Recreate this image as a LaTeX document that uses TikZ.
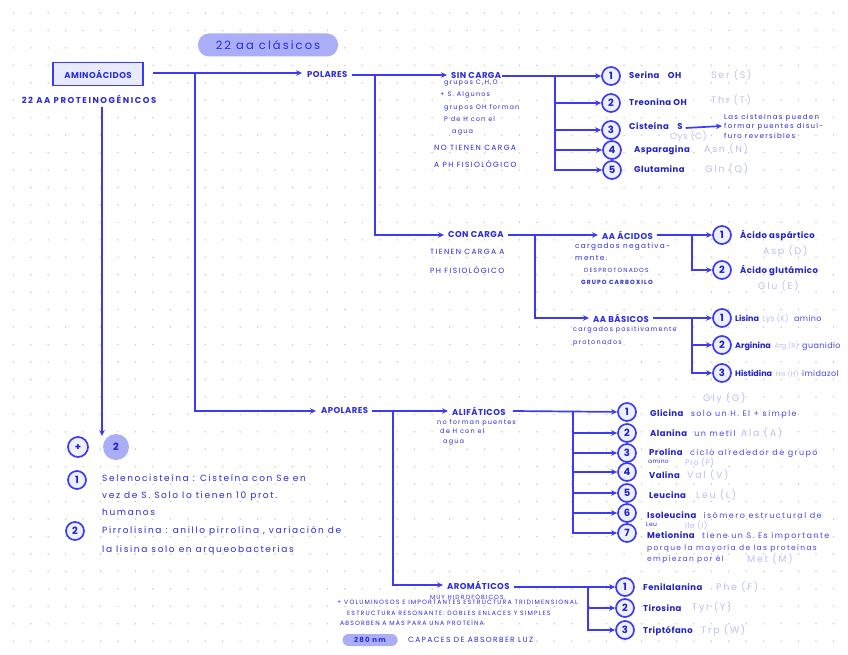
\documentclass[tikz,border=0pt]{standalone}
\usepackage{fontspec}
\setmainfont{Poppins}
\newfontfamily\handA[LetterSpace=5]{Poppins}
\newfontfamily\handB[LetterSpace=18]{Poppins}
\usetikzlibrary{arrows.meta,positioning}

\definecolor{ink}{HTML}{2B2BE0}
\definecolor{inkdark}{HTML}{2222C8}
\definecolor{inklight}{HTML}{4646EE}
\definecolor{wirecol}{HTML}{3B3BF6}
\definecolor{faint}{HTML}{BCC0F2}
\definecolor{pillfill}{HTML}{A9AEF6}
\definecolor{boxfill}{HTML}{E8EAFF}
\definecolor{numfill}{HTML}{EEF0FF}
\definecolor{gridcol}{HTML}{C6C6CC}

\tikzset{
  wire/.style={draw=wirecol, line width=1.7pt},
  arr/.style={wire, -{Stealth[length=6pt,width=5.5pt]}},
  head/.style={text=ink, font=\handA\fontsize{8.5}{10}\selectfont\bfseries, inner sep=1pt},
  aaname/.style={text=inkdark, font=\handA\fontsize{8.5}{10}\selectfont\bfseries, anchor=base west, inner sep=1pt},
  desc/.style={text=inklight, font=\handB\fontsize{8}{10}\selectfont, inner sep=1pt},
  abbr/.style={text=faint, font=\handB\fontsize{9.5}{10}\selectfont, anchor=base west, inner sep=1pt},
  note/.style={text=ink, font=\handB\fontsize{7}{12}\selectfont, align=left, inner sep=0pt},
  num/.style={circle, draw=wirecol, line width=1.7pt, fill=numfill, minimum size=18pt,
    inner sep=0pt, text=inkdark, font=\fontsize{10}{10}\selectfont\bfseries},
  pill/.style={fill=pillfill, rounded corners=11pt, text=ink, inner sep=0pt},
}

\begin{document}
\begin{tikzpicture}[x=1pt, y=-1pt]
  \fill[white] (0,0) rectangle (848,655);
  \useasboundingbox (0,0) rectangle (848,655);

  % dotted paper
  \foreach \i in {0,...,47}
    \foreach \j in {0,...,36}
      \fill[gridcol] ({13.3+17.45*\i},{13+17.45*\j}) circle (0.8pt);

  % title and root
  \node[pill, minimum width=140pt, minimum height=23pt, font=\handB\fontsize{11.5}{12}\selectfont] (clasicos) at (268,45) {22 aa clásicos};
  \node[draw=wirecol, line width=1.3pt, fill=boxfill, minimum width=90pt, minimum height=23pt,
    text=ink, font=\handA\fontsize{8.5}{10}\selectfont\bfseries] (amino) at (98,74) {AMINOÁCIDOS};
  \node[head, font=\handB\fontsize{8.5}{10}\selectfont\bfseries] (proteino) at (89,99) {22 AA PROTEINOGÉNICOS};

  % polares
  \node[head, anchor=west] (polares) at (306,75) {POLARES};
  \node[head, anchor=west] (apolares) at (320,411) {APOLARES};
  \coordinate (j0) at (195,73);
  \draw[arr] ([xshift=9pt]amino.east |- j0) -- ([xshift=-4pt]polares.west |- j0);
  \draw[arr] (j0) |- ([xshift=-4pt]apolares.west);

  \node[head, anchor=west] (sincarga) at (450,76) {SIN CARGA};
  \node[head, anchor=west] (concarga) at (447,235) {CON CARGA};
  \coordinate (j1) at (375,75);
  \draw[arr] ([xshift=3pt]polares.east |- j1) -- ([xshift=-3pt]sincarga.west |- j1);
  \draw[arr] (j1) |- ([xshift=-3pt]concarga.west);

  \node[note, anchor=north west, font=\handB\fontsize{6.5}{12.2}\selectfont] (sinnota) at (440,80) {\hspace*{4pt}grupos C,H,O\\+ S. Algunos\\\hspace*{4pt}grupos OH forman\\\hspace*{4pt}P de H con el\\\hspace*{12pt}agua};
  \node[note, anchor=north west, font=\handB\fontsize{7.5}{17}\selectfont] (sinnota2) at (434,145) {NO TIENEN CARGA\\A PH FISIOLÓGICO};

  % sin carga
  \node[num] (s1) at (611,76) {1};
  \node[num] (s2) at (611,103) {2};
  \node[num] (s3) at (611,130) {3};
  \node[num] (s4) at (612,150) {4};
  \node[num] (s5) at (612,170) {5};
  \coordinate (j2) at (555,76);
  \draw[arr] (sincarga.east) -- (s1);
  \foreach \n in {2,...,5}
    \draw[arr] (j2) |- (s\n);

  \node[aaname] (ser) at (628,79) {Serina\quad OH};
  \node[abbr] (serab) at (710,79) {Ser (S)};
  \node[aaname] (thr) at (628,106) {Treonina OH};
  \node[abbr] (thrab) at (710,104) {Thr (T)};
  \node[aaname] (cys) at (628,130) {Cisteína\quad S};
  \node[abbr, font=\handA\fontsize{9}{10}\selectfont] (cysab) at (669,140) {Cys (C)};
  \node[note, anchor=west, font=\handB\fontsize{7}{9.5}\selectfont] (cysnota) at (724,126) {Las cisteínas pueden\\formar puentes disul-\\furo reversibles};
  \draw[arr] ([xshift=2pt]cys.east |- 0,128) -- ([xshift=-2pt]cysnota.west);
  \node[aaname] (asn) at (633,153) {Asparagina};
  \node[abbr] (asnab) at (703,153) {Asn (N)};
  \node[aaname] (gln) at (633,173) {Glutamina};
  \node[abbr] (glnab) at (704,173) {Gln (Q)};

  % con carga
  \node[note, anchor=north west, font=\handB\fontsize{7.5}{19}\selectfont] (connota) at (430,249) {TIENEN CARGA A\\PH FISIOLÓGICO};
  \node[head, anchor=west] (acidos) at (601,235) {AA ÁCIDOS};
  \node[head, anchor=west] (basicos) at (592,318) {AA BÁSICOS};
  \coordinate (j3) at (535,235);
  \draw[arr] ([xshift=3pt]concarga.east) -- ([xshift=-3pt]acidos.west);
  \draw[arr] (j3) |- ([xshift=-3pt]basicos.west);
  \node[note, anchor=north west, font=\handB\fontsize{7.3}{12}\selectfont] (acinota) at (575,243) {cargados negativa-\\mente.\\\hspace*{9pt}{\fontsize{6}{12}\selectfont DESPROTONADOS}\\\hspace*{6pt}{\fontsize{6}{12}\selectfont\bfseries GRUPO CARBOXILO}};
  \node[note, anchor=north west, font=\handB\fontsize{6.5}{13}\selectfont] (basnota) at (573,326) {cargados positivamente\\protonados};

  \node[num] (c1) at (722,235) {1};
  \node[num] (c2) at (722,270) {2};
  \coordinate (j4) at (692,235);
  \draw[arr] ([xshift=3pt]acidos.east) -- (c1);
  \draw[arr] (j4) |- (c2);
  \node[aaname] (asp) at (739,238) {Ácido aspártico};
  \node[abbr] (aspab) at (762,254) {Asp (D)};
  \node[aaname] (glu) at (739,273) {Ácido glutámico};
  \node[abbr] (gluab) at (757,289) {Glu (E)};

  \node[num] (b1) at (722,318) {1};
  \node[num] (b2) at (722,345) {2};
  \node[num] (b3) at (722,373) {3};
  \coordinate (j5) at (692,318);
  \draw[arr] ([xshift=3pt]basicos.east) -- (b1);
  \foreach \n in {2,3}
    \draw[arr] (j5) |- (b\n);
  \node[aaname, font=\fontsize{8}{9}\selectfont\bfseries] (lys) at (734,321) {Lisina};
  \node[abbr, font=\fontsize{8}{9}\selectfont, base right=1pt of lys] (lysab) {Lys (K)};
  \node[desc, font=\handA\fontsize{8}{9}\selectfont, anchor=base west, base right=3pt of lysab] (lysgr) {amino};
  \node[aaname, font=\fontsize{8}{9}\selectfont\bfseries] (arg) at (734,348) {Arginina};
  \node[abbr, font=\fontsize{7}{9}\selectfont, base right=1pt of arg] (argab) {Arg (R)};
  \node[desc, font=\handA\fontsize{8}{9}\selectfont, anchor=base west, base right=1pt of argab] (arggr) {guanidio};
  \node[aaname, font=\fontsize{8}{9}\selectfont\bfseries] (his) at (734,376) {Histidina};
  \node[abbr, font=\fontsize{7}{9}\selectfont, base right=1pt of his] (hisab) {His (H)};
  \node[desc, font=\handA\fontsize{8}{9}\selectfont, anchor=base west, base right=1pt of hisab] (hisgr) {imidazol};

  % apolares
  \node[head, anchor=west] (alifaticos) at (451,411) {ALIFÁTICOS};
  \node[head, anchor=west] (aromaticos) at (446,585) {AROMÁTICOS};
  \coordinate (j6) at (393,411);
  \draw[arr] ([xshift=3pt]apolares.east) -- ([xshift=-3pt]alifaticos.west);
  \draw[arr] (j6) |- ([xshift=-3pt]aromaticos.west);
  \node[note, anchor=north west, font=\handB\fontsize{6.5}{9.5}\selectfont] (alinota) at (437,419) {no forman puentes\\\hspace*{3pt}de H con el\\\hspace*{6pt}agua};

  \node[num] (l1) at (627,412) {1};
  \node[num] (l2) at (627,433) {2};
  \node[num] (l3) at (627,453) {3};
  \node[num] (l4) at (627,472) {4};
  \node[num] (l5) at (627,493) {5};
  \node[num] (l6) at (627,513) {6};
  \node[num] (l7) at (627,533) {7};
  \coordinate (j7) at (573,412);
  \draw[arr] ([xshift=6pt]alifaticos.east) -- (l1);
  \foreach \n in {2,...,7}
    \draw[arr] (j7) |- (l\n);

  \node[abbr] (glyab) at (702,401) {Gly (G)};
  \node[aaname] (gly) at (649,416) {Glicina};
  \node[desc, anchor=base west, base right=5pt of gly] (glyd) {solo un H. El + simple};
  \node[aaname] (ala) at (649,436) {Alanina};
  \node[desc, anchor=base west, base right=5pt of ala] (alad) {un metil};
  \node[abbr, base right=3pt of alad] (alaab) {Ala (A)};
  \node[aaname] (pro) at (648,455) {Prolina};
  \node[desc, anchor=base west, base right=5pt of pro] (prod) {ciclo alrededor de grupo};
  \node[note, anchor=base west, font=\handA\fontsize{6}{8}\selectfont] (proam) at (648,463) {amino};
  \node[abbr, font=\handA\fontsize{8}{10}\selectfont] (proab) at (684,465) {Pro (P)};
  \node[aaname] (val) at (648,478) {Valina};
  \node[abbr] (valab) at (686,478) {Val (V)};
  \node[aaname] (leu) at (648,498) {Leucina};
  \node[abbr] (leuab) at (695,498) {Leu (L)};
  \node[aaname] (ile) at (646,518) {Isoleucina};
  \node[desc, anchor=base west, base right=5pt of ile] (iled) {isómero estructural de};
  \node[note, anchor=base west, font=\handA\fontsize{6}{8}\selectfont] (ileleu) at (646,526) {Leu};
  \node[abbr, font=\handA\fontsize{8}{10}\selectfont] (ileab) at (684,528) {Ile (I)};
  \node[aaname] (met) at (646,538) {Metionina};
  \node[desc, anchor=base west, base right=5pt of met] (metd) {tiene un S. Es importante};
  \node[desc, anchor=north west, align=left, font=\handB\fontsize{7.5}{11}\selectfont] (metd2) at (646,543) {porque la mayoría de las proteínas\\empiezan por él};
  \node[abbr] (metab) at (746,562) {Met (M)};

  % aromaticos
  \node[num] (r1) at (625,587) {1};
  \node[num] (r2) at (625,608) {2};
  \node[num] (r3) at (625,630) {3};
  \coordinate (j8) at (588,587);
  \draw[arr] ([xshift=3pt]aromaticos.east |- j8) -- (r1);
  \foreach \n in {2,3}
    \draw[arr] (j8) |- (r\n);
  \node[aaname] (phe) at (642,590) {Fenilalanina};
  \node[abbr] (pheab) at (715,590) {Phe (F)};
  \node[aaname] (tyr) at (642,611) {Tirosina};
  \node[abbr] (tyrab) at (691,610) {Tyr (Y)};
  \node[aaname] (trp) at (642,633) {Triptófano};
  \node[abbr] (trpab) at (700,633) {Trp (W)};

  \node[note, font=\handB\fontsize{6}{8}\selectfont] (hidro) at (468,597) {MUY HIDROFÓBICOS.};
  \node[note, anchor=north west, font=\handB\fontsize{6.2}{10.5}\selectfont] (aronota) at (337,600)
    {+ VOLUMINOSOS E IMPORTANTES ESTRUCTURA TRIDIMENSIONAL\\\hspace*{10pt}ESTRUCTURA RESONANTE: DOBLES ENLACES Y SIMPLES\\\hspace*{3pt}ABSORBEN A MÁS PARA UNA PROTEÍNA};
  \node[pill, rounded corners=6pt, minimum width=55pt, minimum height=12pt, font=\handB\fontsize{7}{8}\selectfont\bfseries] (nm) at (370,640) {280 nm};
  \node[note, anchor=west, font=\handB\fontsize{7.5}{8}\selectfont] (luz) at (408,640) {CAPACES DE ABSORBER LUZ};

  % otros dos
  \coordinate (dn) at (102,436);
  \draw[arr] ([yshift=-3pt]proteino.south -| dn) -- (dn);
  \node[num, minimum size=20pt] (mas) at (78,447) {+};
  \node[circle, fill=pillfill, minimum size=26pt, inner sep=0pt, text=inkdark,
    font=\fontsize{10}{10}\selectfont\bfseries] (dos) at (116,447) {2};
  \node[num] (o1) at (77,480) {1};
  \node[desc, text=ink, anchor=north west, align=left, font=\handB\fontsize{9}{17}\selectfont] (selen) at (101,473)
    {Selenocisteína : Cisteína con Se en\\vez de S. Solo lo tienen 10 prot.\\humanos};
  \node[num] (o2) at (75,531) {2};
  \node[desc, text=ink, anchor=north west, align=left, font=\handB\fontsize{9}{19}\selectfont] (pirro) at (101,525)
    {Pirrolisina : anillo pirrolina , variación de\\la lisina solo en arqueobacterias};
\end{tikzpicture}
\end{document}
